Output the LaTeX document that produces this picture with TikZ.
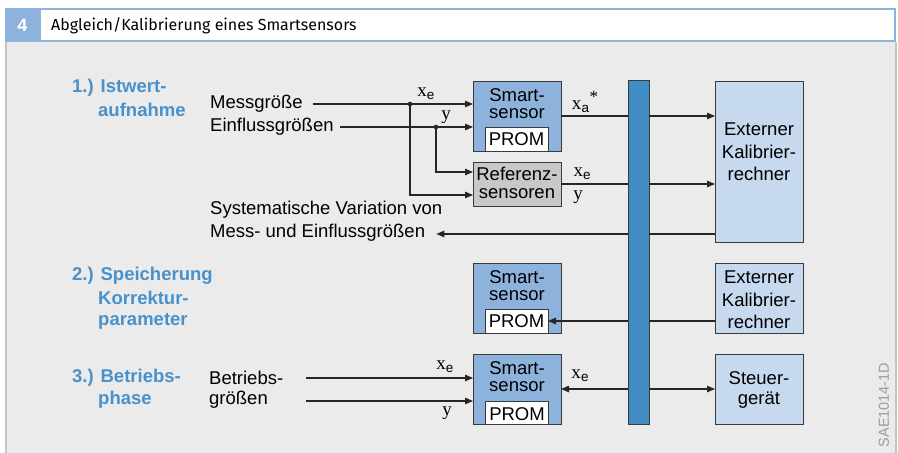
\documentclass[tikz,border=0pt]{standalone}
\usepackage{fontspec}
\setmainfont{Liberation Sans}
\newfontfamily\serf{Liberation Serif}
\newfontfamily\ttlfont{Fira Sans}
\usetikzlibrary{arrows.meta,calc}
\definecolor{bggray}{HTML}{EBEBEB}
\definecolor{bordergray}{HTML}{C4C4C4}
\definecolor{hdrblue}{HTML}{8DB3DD}
\definecolor{secblue}{HTML}{4891CB}
\definecolor{smartfill}{HTML}{8DB3DD}
\definecolor{extfill}{HTML}{C6D9EF}
\definecolor{reffill}{HTML}{C8C8C8}
\definecolor{busfill}{HTML}{3F8DC3}
\definecolor{boxline}{HTML}{3A3A3A}
\definecolor{saegray}{HTML}{9C9C9C}
\newcommand{\xsub}[1]{{\serf x}\raisebox{-3pt}{\rmfamily\fontsize{13.5}{13.5}\selectfont #1}}
\newcommand{\xastar}{{\serf x}\raisebox{-3pt}{\rmfamily\fontsize{13.5}{13.5}\selectfont a}\kern0.5pt\raisebox{7pt}{\fontsize{17}{17}\selectfont\serf *}}
\begin{document}
\begin{tikzpicture}[x=1pt,y=-1pt,
  box/.style={draw=boxline,line width=0.9pt,anchor=north west,inner sep=0pt,outer sep=0pt},
  txt/.style={inner sep=0pt,font=\fontsize{18.5}{19}\selectfont,text=black},
  sec/.style={inner sep=0pt,anchor=west,font=\bfseries\fontsize{18.5}{19}\selectfont,text=secblue},
  lbl/.style={inner sep=0pt,font=\serf\fontsize{19}{19}\selectfont},
  wire/.style={line width=1.1pt,draw=black!85},
  arr/.style={wire,-{Triangle[length=8pt,width=6.5pt]}},
  dot/.style={fill=black!85}]
\useasboundingbox (0,0) rectangle (898,453);
\fill[white] (0,0) rectangle (898,453);
% frame
\fill[bggray] (5,42) rectangle (896,453);
\draw[bordergray,line width=2pt] (6,42) -- (6,453);
\draw[bordergray,line width=2pt] (896,42) -- (896,453);
% header
\fill[hdrblue] (5,8) rectangle (40,42);
\draw[hdrblue,line width=2pt,fill=white] (40,9) rectangle (895,41);
\node[inner sep=0pt,text=white,font=\bfseries\fontsize{18}{18}\selectfont] (num) at (22.5,25.5) {4};
\node[inner sep=0pt,anchor=west,font=\ttlfont\fontsize{16}{16}\selectfont] (title) at (51,25.5) {Abgleich/Kalibrierung eines Smartsensors};
% section labels
\node[sec] (s1a) at (72,88) {1.) Istwert-};
\node[sec] (s1b) at (98,110) {aufnahme};
\node[sec] (s2a) at (72,276) {2.) Speicherung};
\node[sec] (s2b) at (98,298) {Korrektur-};
\node[sec] (s2c) at (98,321) {parameter};
\node[sec] (s3a) at (72,378) {3.) Betriebs-};
\node[sec] (s3b) at (98,400) {phase};
% boxes
\node[box,fill=smartfill,minimum width=88,minimum height=70] (ss1) at (473,81) {};
\node[box,fill=white,anchor=south west,minimum width=63,minimum height=24] (p1) at (485,151) {};
\node[txt] at (517,95) {Smart-};
\node[txt] at (517,114) {sensor};
\node[txt] at (p1) {PROM};
\node[box,fill=reffill,minimum width=88,minimum height=44] (ref) at (473,162) {};
\node[txt] at (517,174) {Referenz-};
\node[txt] at (517,194) {sensoren};
\node[box,fill=smartfill,minimum width=88,minimum height=70] (ss2) at (473,263) {};
\node[box,fill=white,anchor=south west,minimum width=63,minimum height=24] (p2) at (485,333) {};
\node[txt] at (517,277) {Smart-};
\node[txt] at (517,296) {sensor};
\node[txt] at (p2) {PROM};
\node[box,fill=smartfill,minimum width=88,minimum height=70] (ss3) at (473,354) {};
\node[box,fill=white,anchor=south west,minimum width=63,minimum height=23] (p3) at (485,424) {};
\node[txt] at (517,368) {Smart-};
\node[txt] at (517,387) {sensor};
\node[txt] at (517,414) {PROM};
\node[box,fill=busfill,minimum width=21,minimum height=344] (bus) at (628,80) {};
\node[box,fill=extfill,minimum width=88,minimum height=161] (ext1) at (715,81) {};
\node[txt] at (759,129) {Externer};
\node[txt] at (759,152) {Kalibrier-};
\node[txt] at (759,174) {rechner};
\node[box,fill=extfill,minimum width=88,minimum height=70] (ext2) at (715,263) {};
\node[txt] at (759,277) {Externer};
\node[txt] at (759,300) {Kalibrier-};
\node[txt] at (759,322) {rechner};
\node[box,fill=extfill,minimum width=88,minimum height=70] (steu) at (715,354) {};
\node[txt] at (759,378) {Steuer-};
\node[txt] at (759,400) {gerät};
% left texts
\node[txt,anchor=west] (mess) at (210,104) {Messgröße};
\node[txt,anchor=west] (einf) at (210,127) {Einflussgrößen};
\node[txt,anchor=west] (var1) at (210,210) {Systematische Variation von};
\node[txt,anchor=west] (var2) at (210,233) {Mess- und Einflussgrößen};
\node[txt,anchor=west] (betr1) at (209,378) {Betriebs-};
\node[txt,anchor=west] (betr2) at (209,400) {größen};
% junctions
\coordinate (j1) at (410,104);
\coordinate (j2) at (436,127);
\coordinate (m0) at (313,104);
\coordinate (e0) at (340,127);
\coordinate (b1) at (306,378);
\coordinate (b2) at (306,401);
% connectors stage 1
\draw[arr] (m0) -- (ss1.west |- m0);
\draw[arr] (e0) -- (ss1.west |- e0);
\draw[arr] (j2) |- ($(ref.west)+(0,-12)$);
\draw[arr] (j1) |- ($(ref.west)+(0,11)$);
\fill[dot] (j1) circle (2.3pt);
\fill[dot] (j2) circle (2.3pt);
\node[lbl] at (426,94) {\xsub{e}};
\node[lbl] at (446,117) {y};
\draw[wire] (ss1.east) -- (bus.west |- ss1.east);
\draw[arr] (bus.east |- ss1.east) -- (ext1.west |- ss1.east);
\node[lbl] at (585,102) {\xastar};
\draw[wire] (ref.east) -- (bus.west |- ref.east);
\draw[arr] (bus.east |- ref.east) -- (ext1.west |- ref.east);
\node[lbl] at (582,174) {\xsub{e}};
\node[lbl] at (578,197) {y};
\coordinate (r0) at ($(ext1.south west)+(0,-8)$);
\draw[wire] (r0) -- (bus.east |- r0);
\draw[arr] (bus.west |- r0) -- ($(var2.east |- r0)+(11,0)$);
% stage 2
\draw[wire] (ext2.west |- p2.east) -- (bus.east |- p2.east);
\draw[arr] (bus.west |- p2.east) -- (p2.east);
% stage 3
\draw[arr] (b1) -- (ss3.west |- b1);
\draw[arr] (b2) -- (ss3.west |- b2);
\node[lbl] at (445,367) {\xsub{e}};
\node[lbl] at (447,413) {y};
\draw[arr] (bus.west |- ss3.east) -- (ss3.east);
\draw[arr] (bus.east |- ss3.east) -- (steu.west |- ss3.east);
\node[lbl] at (580,376) {\xsub{e}};
% code
\node[inner sep=0pt,rotate=90,text=saegray,font=\fontsize{14.5}{15}\selectfont] (sae) at (884,405) {SAE1014-1D};
\end{tikzpicture}
\end{document}
